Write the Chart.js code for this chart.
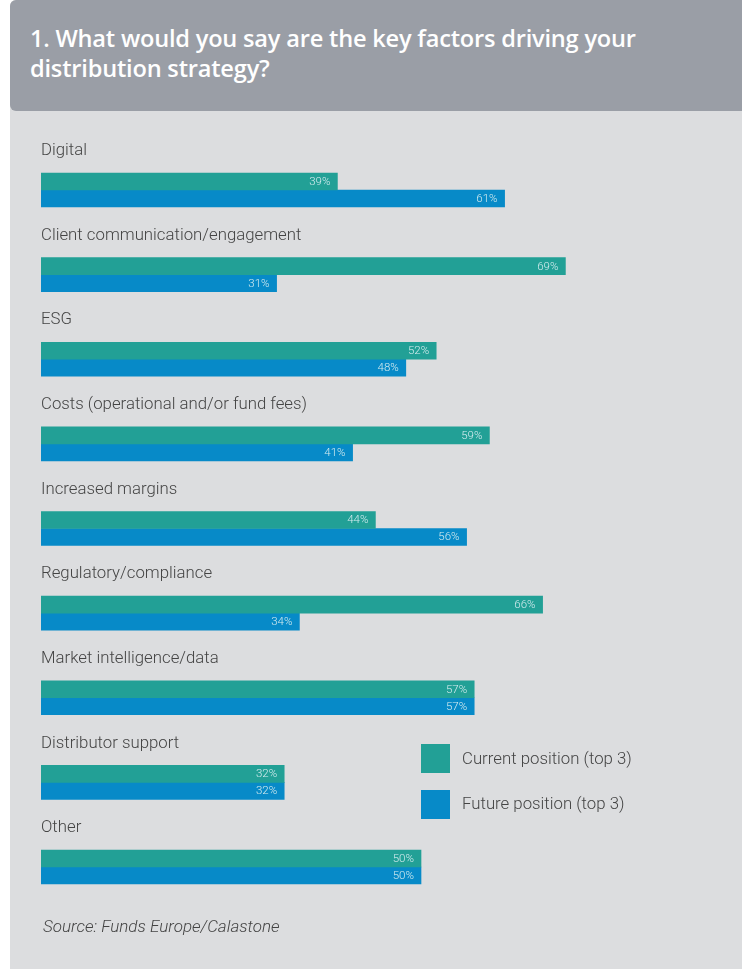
<!DOCTYPE html>
<html>
<head>
<meta charset="utf-8">
<script src="https://cdn.jsdelivr.net/npm/chart.js@4.4.0/dist/chart.umd.min.js"></script>
<style>
  html, body { margin: 0; padding: 0; background: #ffffff; width: 742px; height: 969px; overflow: hidden; }
  #panel { position: absolute; left: 10px; top: 0; width: 732px; height: 969px; background: #dcdddf; border-top-left-radius: 6px; }
  #header { position: absolute; left: 10px; top: 0; width: 732px; height: 111px; background: #9a9ea6; border-radius: 6px 0 0 6px; }
  #title { position: absolute; left: 30px; top: 23px; color: #ffffff; font-family: "Open Sans", sans-serif; font-weight: 600; font-size: 23.6px; line-height: 30px; letter-spacing: -0.2px; }
  #chartwrap { position: absolute; left: 10px; top: 111px; width: 732px; height: 858px; }
  .leg { position: absolute; left: 421px; width: 29px; height: 29px; }
  .legtxt { position: absolute; left: 462px; font-family: "Roboto", sans-serif; font-weight: 300; font-size: 16.8px; color: #444; line-height: 20px; }
  #source { position: absolute; left: 43px; top: 916px; font-family: "Roboto", sans-serif; font-weight: 300; font-style: italic; font-size: 17px; color: #444; }
</style>
</head>
<body>
<div id="panel"></div>
<div id="header"></div>
<div id="title">1. What would you say are the key factors driving your<br>distribution strategy?</div>
<div id="chartwrap"><canvas id="c" width="732" height="858"></canvas></div>
<div class="leg" style="top:744px;background:#22a096"></div>
<div class="legtxt" style="top:748px">Current position (top 3)</div>
<div class="leg" style="top:790px;background:#078ac8"></div>
<div class="legtxt" style="top:793px">Future position (top 3)</div>
<div id="source">Source: Funds Europe/Calastone</div>
<script>
const categories = ["Digital", "Client communication/engagement", "ESG", "Costs (operational and/or fund fees)", "Increased margins", "Regulatory/compliance", "Market intelligence/data", "Distributor support", "Other"];
const currentPosition = [39, 69, 52, 59, 44, 66, 57, 32, 50];
const futurePosition = [61, 31, 48, 41, 56, 34, 57, 32, 50];
const seriesNames = ["Current position (top 3)", "Future position (top 3)"];
const colors = ["#22a096", "#078ac8"];

const labelPlugin = {
  id: 'labels',
  afterDatasetsDraw(chart) {
    const ctx = chart.ctx;
    const yScale = chart.scales.y;
    ctx.save();
    ctx.font = '300 16.8px Roboto, sans-serif';
    ctx.fillStyle = '#444444';
    ctx.textAlign = 'left';
    ctx.textBaseline = 'middle';
    categories.forEach((c, i) => {
      const y = yScale.getPixelForValue(i);
      ctx.fillText(c, chart.chartArea.left, y - 39);
    });
    ctx.font = '300 11.5px Roboto, sans-serif';
    ctx.fillStyle = '#d5ecef';
    ctx.textAlign = 'right';
    chart.data.datasets.forEach((ds, di) => {
      const meta = chart.getDatasetMeta(di);
      meta.data.forEach((bar, i) => {
        ctx.fillText(ds.data[i] + '%', bar.x - 7, bar.y + 0.5);
      });
    });
    ctx.restore();
  }
};

new Chart(document.getElementById('c'), {
  type: 'bar',
  data: {
    labels: categories,
    datasets: [
      { label: seriesNames[0], data: currentPosition, backgroundColor: colors[0], barThickness: 17 },
      { label: seriesNames[1], data: futurePosition, backgroundColor: colors[1], barThickness: 17 }
    ]
  },
  options: {
    indexAxis: 'y',
    responsive: false,
    animation: false,
    layout: { padding: { left: 31, right: 17, top: 36.7, bottom: 59.7 } },
    scales: {
      x: { display: false, min: 0, max: 90 },
      y: { display: false, offset: true }
    },
    plugins: { legend: { display: false }, tooltip: { enabled: false } }
  },
  plugins: [labelPlugin]
});
</script>
</body>
</html>
